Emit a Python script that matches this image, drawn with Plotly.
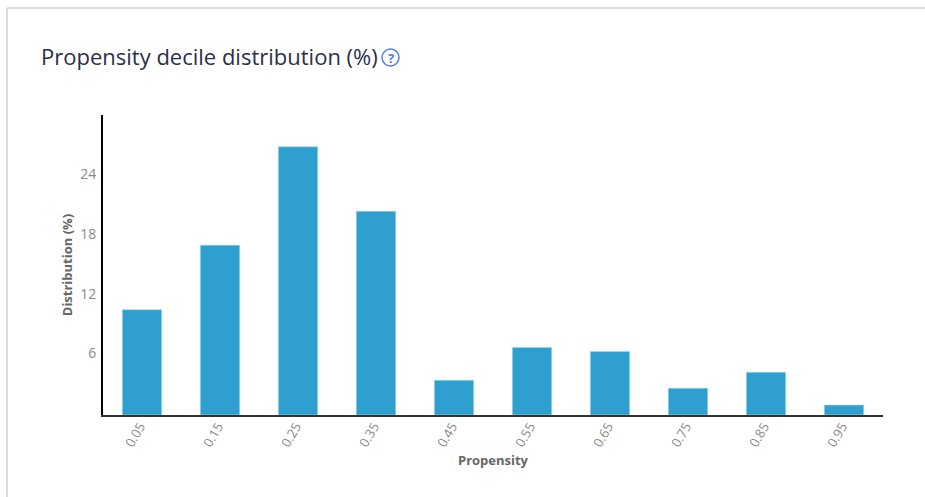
import plotly.graph_objects as go

categories = ["0.05", "0.15", "0.25", "0.35", "0.45", "0.55", "0.65", "0.75", "0.85", "0.95"]
values = [10.6, 17.1, 27.0, 20.5, 3.5, 6.8, 6.4, 2.7, 4.3, 1.0]
y_ticks = [6, 12, 18, 24]

W, H = 925, 497
L, R, T, B = 103, 42, 115, 82


def px(x):
    return (x - L) / (W - L - R)


def py(y):
    return 1 - (y - T) / (H - T - B)


fig = go.Figure(go.Bar(
    x=categories, y=values, width=0.505,
    marker=dict(color="#2e9fce", line=dict(color="#a8d8ec", width=0.6)),
))

fig.update_layout(
    width=W, height=H,
    margin=dict(l=L, r=R, t=T, b=B),
    paper_bgcolor="white", plot_bgcolor="white",
    font=dict(family="Open Sans", color="#777777", size=13),
    showlegend=False,
    xaxis=dict(
        type="category", range=[-0.5, 9.5], tickangle=-60, showgrid=False,
        showline=True, linecolor="#333333", linewidth=1.5, ticks="",
        tickfont=dict(size=13, color="#8a8a8a"),
        ticklabelstandoff=-3, ticklabelshift=-2,
        title=dict(text="<b>Propensity</b>", font=dict(size=13, color="#666666"), standoff=7),
    ),
    yaxis=dict(
        range=[0, 30.2], tickvals=y_ticks, showgrid=False, zeroline=False,
        showline=True, linecolor="#000000", linewidth=2, ticks="",
        tickfont=dict(size=14, color="#8a8a8a"),
        ticklabelstandoff=2, ticklabelshift=-2,
        title=dict(text="<b>Distribution (%)</b>", font=dict(size=13, color="#666666"), standoff=5),
    ),
    shapes=[
        dict(type="line", xref="paper", yref="paper", x0=px(7), x1=px(925), y0=py(8), y1=py(8),
             line=dict(color="#dcdcdc", width=2)),
        dict(type="line", xref="paper", yref="paper", x0=px(7), x1=px(7), y0=py(8), y1=py(497),
             line=dict(color="#dcdcdc", width=2)),
        dict(type="circle", xref="paper", yref="paper", x0=px(382), x1=px(399), y0=py(49), y1=py(66),
             line=dict(color="#4f7fe0", width=1.5)),
    ],
    annotations=[
        dict(text="Propensity decile distribution (%)", xref="paper", yref="paper",
             x=px(39), y=py(56), xanchor="left", yanchor="middle", showarrow=False,
             font=dict(family="Open Sans", size=22, color="#2b2f4a")),
        dict(text="<b>?</b>", xref="paper", yref="paper", x=px(390.5), y=py(57.5), xanchor="center",
             yanchor="middle", showarrow=False, font=dict(family="Open Sans", size=13, color="#4f7fe0")),
    ],
)

fig.write_html("out.html", config=dict(displayModeBar=False),
               post_script="document.body.style.margin='0';")
